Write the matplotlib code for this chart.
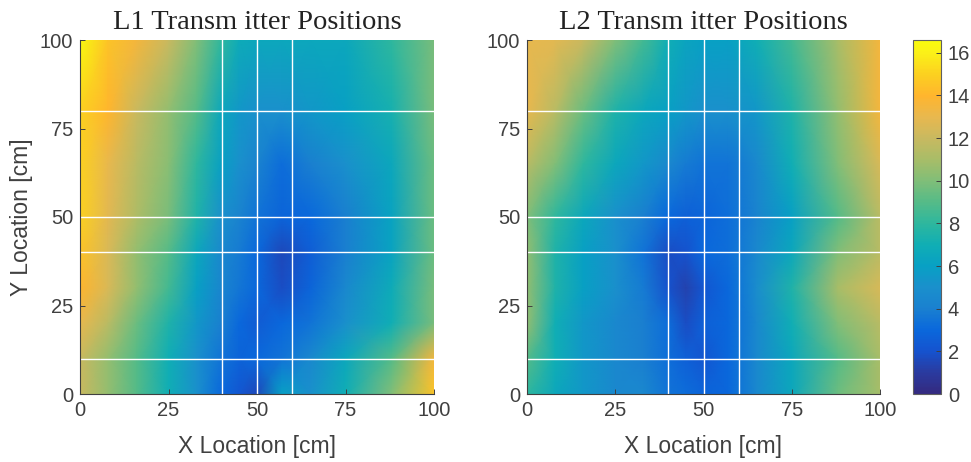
import numpy as np
import matplotlib
matplotlib.use('Agg')
import matplotlib.pyplot as plt
from matplotlib.colors import LinearSegmentedColormap

# sample locations [cm]
x_loc = [0, 8, 16, 25, 33, 40, 45, 50, 57, 65, 75, 88, 100]
y_loc = [100, 80, 65, 50, 40, 30, 20, 10, 0]

l1 = [
    [16.5, 14.5, 13.5, 12.0, 10.0, 8.0, 6.8, 6.5, 6.5, 6.5, 6.5, 8.0, 9.8],
    [15.0, 14.0, 12.0, 10.5, 9.0, 6.5, 5.5, 5.0, 5.0, 5.5, 6.0, 7.2, 9.8],
    [15.0, 13.0, 11.5, 10.2, 8.0, 6.0, 5.0, 4.2, 3.2, 4.0, 5.0, 6.5, 9.5],
    [15.0, 12.8, 11.2, 9.8, 7.5, 5.0, 4.2, 3.5, 2.8, 3.0, 4.0, 6.2, 9.5],
    [14.5, 12.5, 10.5, 9.0, 6.5, 4.5, 3.8, 3.0, 1.6, 2.5, 4.0, 6.2, 9.5],
    [14.0, 12.5, 10.5, 8.5, 6.0, 4.3, 3.6, 3.0, 1.8, 2.8, 4.5, 6.8, 9.8],
    [13.0, 11.5, 9.5, 7.5, 5.5, 4.0, 3.0, 2.4, 3.0, 3.5, 5.0, 7.0, 9.8],
    [12.0, 10.5, 9.0, 7.0, 5.0, 3.5, 2.8, 3.0, 3.5, 4.5, 6.5, 9.0, 13.5],
    [12.0, 10.5, 9.0, 7.0, 5.0, 3.0, 2.2, 1.6, 6.0, 5.0, 7.0, 10.0, 14.5],
]

l2 = [
    [13.0, 12.8, 12.0, 10.0, 8.5, 7.0, 6.3, 6.0, 6.0, 7.0, 8.5, 11.0, 13.5],
    [13.0, 11.5, 9.5, 7.5, 6.5, 6.0, 5.5, 5.0, 5.0, 5.5, 7.5, 10.5, 13.5],
    [11.5, 10.0, 8.0, 6.5, 5.5, 4.5, 3.8, 3.5, 3.5, 4.5, 7.0, 10.0, 12.5],
    [10.0, 8.0, 6.5, 5.0, 4.0, 3.0, 2.6, 2.8, 3.3, 4.2, 6.0, 9.0, 11.5],
    [10.5, 7.5, 6.0, 5.0, 3.5, 1.8, 2.0, 3.0, 3.3, 4.5, 6.5, 10.0, 11.5],
    [10.5, 7.5, 6.0, 5.0, 3.8, 2.0, 1.3, 2.2, 3.0, 4.8, 7.5, 11.0, 12.5],
    [10.5, 7.0, 5.5, 4.5, 4.0, 3.2, 1.8, 2.6, 3.0, 4.5, 7.0, 10.0, 11.5],
    [9.0, 7.0, 5.5, 4.5, 4.0, 3.3, 2.6, 2.2, 3.0, 4.5, 6.5, 9.0, 11.0],
    [8.0, 6.5, 5.5, 4.5, 4.5, 3.5, 3.2, 2.8, 3.0, 4.5, 6.5, 9.5, 11.0],
]

titles = ['L1 Transm itter Positions', 'L2 Transm itter Positions']
grid_x = [40, 50, 60]
grid_y = [10, 40, 50, 80]
ticks = [0, 25, 50, 75, 100]
cbar_ticks = [0, 2, 4, 6, 8, 10, 12, 14, 16]
vmin = 0
vmax = 16.6

# colours, one per unit of value
cmap_values = [0, 1, 2, 3, 4, 5, 6, 7, 8, 9, 10, 11, 12, 13, 14, 15, 16, 16.6]
cmap_colors = ['#342a80', '#2a3ba0', '#1553cf', '#0a68dc', '#1a80d0', '#1a90cc', '#08a0c4', '#10aeb4', '#2eb79e',
               '#55bb88', '#80be78', '#a8bd68', '#c8b960', '#e8b84f', '#ffb52e', '#fcd020', '#fbf018', '#f9fb0e']
parula = LinearSegmentedColormap.from_list('parula', [(v/vmax, c) for v, c in zip(cmap_values, cmap_colors)])

W, H = 971, 462
dark = '#404040'
plt.rcParams['font.family'] = ['Liberation Sans', 'DejaVu Sans']

fig = plt.figure(figsize=(W/100, H/100), dpi=100)

def px_axes(x0, x1, y0, y1):
    return fig.add_axes([x0/W, 1 - y1/H, (x1 - x0)/W, (y1 - y0)/H])

ax1 = px_axes(80, 434, 40, 394)
ax2 = px_axes(527, 880, 40, 394)
cax = px_axes(913, 941, 40, 394)

X, Y = np.meshgrid(x_loc, y_loc)
for ax, z, title in zip([ax1, ax2], [l1, l2], titles):
    mesh = ax.pcolormesh(X, Y, np.array(z), shading='gouraud', cmap=parula, vmin=vmin, vmax=vmax)
    for g in grid_x:
        ax.axvline(g, color='white', lw=1)
    for g in grid_y:
        ax.axhline(g, color='white', lw=1)
    ax.set_xlim(0, 100)
    ax.set_ylim(0, 100)
    ax.set_xticks(ticks)
    ax.set_yticks(ticks)
    ax.tick_params(direction='in', length=3.5, width=0.7, color=dark, labelcolor=dark, labelsize=14.5, pad=5)
    ax.spines['top'].set_visible(False)
    ax.spines['right'].set_visible(False)
    ax.spines['left'].set_color(dark)
    ax.spines['bottom'].set_color(dark)
    ax.set_xlabel('X Location [cm]', fontsize=16.5, color=dark, labelpad=11)
    ax.set_title(title, family=['Liberation Serif', 'DejaVu Serif'], fontsize=20.5, color='#222222', pad=8)

ax1.set_ylabel('Y Location [cm]', fontsize=16.5, color=dark, labelpad=5)

cb = fig.colorbar(mesh, cax=cax)
cb.set_ticks(cbar_ticks)
cb.ax.tick_params(direction='in', length=3.5, width=0.7, color=dark, labelcolor=dark, labelsize=14.5, pad=5)
cb.outline.set_edgecolor('#606060')
cb.outline.set_linewidth(0.8)

fig.savefig('out.png', dpi=100)
